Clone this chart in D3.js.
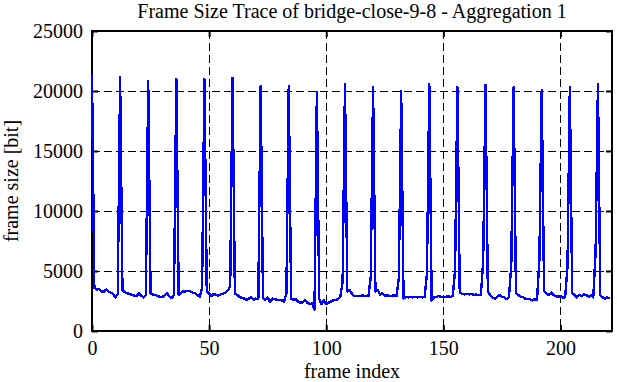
<!DOCTYPE html>
<html>
<head>
<meta charset="utf-8">
<script src="https://cdn.jsdelivr.net/npm/d3@7"></script>
<style>
  html, body { margin: 0; padding: 0; background: #fff; }
  svg { display: block; }
  text { font-family: "Liberation Serif", "Times New Roman", serif; fill: #000; }
</style>
</head>
<body>
<svg id="chart" width="617" height="382"></svg>
<script>
// ---- data ----
const chartTitle = "Frame Size Trace of bridge-close-9-8 - Aggregation 1";
const xLabel = "frame index";
const yLabel = "frame size [bit]";
const xTicks = [0, 50, 100, 150, 200];
const yTicks = [0, 5000, 10000, 15000, 20000, 25000];
const xDomain = [0, 222];
const yDomain = [0, 25000];
// frame sizes [bit], frame index 0..221
const frameSizes = [
  21400, 3600, 3450, 3500, 3300, 3250, 3450, 3300, 3200, 3100, 2800, 3100,
  21150, 3400, 3250, 3150, 3100, 3000, 2950, 2900, 3150, 2950, 2800, 3000,
  20800, 3150, 3050, 3000, 2900, 2850, 2850, 2950, 3150, 2900, 2750, 3000,
  21000, 3000, 3200, 3300, 3300, 3350, 3300, 3200, 3150, 3000, 2850, 3600,
  21000, 3300, 3100, 2900, 3100, 3000, 2950, 3050, 3100, 3200, 3400, 3700,
  21100, 3100, 3000, 2850, 2750, 2700, 2600, 2700, 2800, 2600, 2700, 2650,
  20400, 2750, 2600, 2800, 2400, 2700, 2650, 2600, 2600, 2550, 2450, 3150,
  20400, 2700, 2600, 2650, 2450, 2350, 2400, 2550, 2350, 2250, 2300, 1800,
  19900, 2650, 2250, 2550, 2250, 2350, 2450, 2550, 2600, 2650, 2850, 4100,
  20550, 3300, 3400, 3100, 2900, 2900, 2900, 2950, 2950, 2900, 2900, 4500,
  20350, 3300, 3400, 3000, 3150, 2900, 3000, 2900, 2900, 3000, 2900, 4400,
  20000, 2700, 2850, 2800, 2850, 2800, 2850, 2800, 2850, 2800, 2850, 4800,
  20550, 2550, 2800, 2850, 2900, 2850, 2800, 2850, 2900, 2850, 2900, 5050,
  20350, 3200, 3100, 3050, 3100, 3050, 3100, 3000, 3050, 3000, 3000, 5750,
  20500, 3300, 3000, 2800, 2700, 2850, 3000, 2850, 2800, 2650, 2800, 5500,
  20300, 3150, 3000, 2850, 2800, 2700, 2650, 2650, 2550, 2650, 2600, 5950,
  20100, 3300, 3150, 3000, 3200, 3000, 2900, 2850, 2900, 2800, 2800, 5400,
  20350, 3150, 3000, 2800, 3000, 2900, 3050, 3000, 2850, 3000, 2800, 6600,
  20600, 3000, 2800, 2700, 2800, 2700
];

// ---- layout ----
const W = 617, H = 382;
const m = { left: 92, right: 5, top: 31, bottom: 51 };
const svg = d3.select("#chart");

const x = d3.scaleLinear().domain(xDomain).range([m.left, W - m.right]);
const y = d3.scaleLinear().domain(yDomain).range([H - m.bottom, m.top]);

// grid
const grid = svg.append("g").attr("stroke", "#000").attr("stroke-width", 1)
  .attr("stroke-dasharray", "8,4").attr("shape-rendering", "crispEdges");
grid.selectAll("line.gx").data(xTicks.filter(d => d > xDomain[0] && d < xDomain[1]))
  .join("line").attr("class", "gx")
  .attr("x1", d => x(d)).attr("x2", d => x(d))
  .attr("y1", y(yDomain[1])).attr("y2", y(yDomain[0]));
grid.selectAll("line.gy").data(yTicks.filter(d => d > yDomain[0] && d < yDomain[1]))
  .join("line").attr("class", "gy")
  .attr("y1", d => y(d)).attr("y2", d => y(d))
  .attr("x1", x(xDomain[0])).attr("x2", x(xDomain[1]));

// axes (ticks inward, mirrored)
function styleAxis(g) {
  g.select(".domain").remove();
  g.selectAll(".tick line").attr("stroke", "#000").attr("stroke-width", 2);
  g.selectAll(".tick text").attr("font-size", 20)
    .style("font-family", '"Liberation Serif", "Times New Roman", serif');
}
svg.append("g").attr("transform", `translate(0,${y(0)})`)
  .call(d3.axisBottom(x).tickValues(xTicks).tickSize(-6).tickPadding(10).tickFormat(d3.format("d")))
  .call(styleAxis);
svg.append("g").attr("transform", `translate(0,${m.top})`)
  .call(d3.axisTop(x).tickValues(xTicks).tickSize(-6).tickFormat(""))
  .call(styleAxis);
svg.append("g").attr("transform", `translate(${m.left},0)`)
  .call(d3.axisLeft(y).tickValues(yTicks).tickSize(-6).tickPadding(9).tickFormat(d3.format("d")))
  .call(styleAxis);
svg.append("g").attr("transform", `translate(${W - m.right},0)`)
  .call(d3.axisRight(y).tickValues(yTicks).tickSize(-6).tickFormat(""))
  .call(styleAxis);

// border
svg.append("rect")
  .attr("x", x(xDomain[0])).attr("y", y(yDomain[1]))
  .attr("width", x(xDomain[1]) - x(xDomain[0]))
  .attr("height", y(yDomain[0]) - y(yDomain[1]))
  .attr("fill", "none").attr("stroke", "#000").attr("stroke-width", 2);

// data line
const line = d3.line().x((d, i) => x(i)).y(d => y(d));
svg.append("path").datum(frameSizes)
  .attr("d", line)
  .attr("fill", "none").attr("stroke", "#0000ff").attr("stroke-width", 2.4)
  .attr("stroke-linejoin", "round")
  .attr("shape-rendering", "crispEdges");

// labels
svg.append("text").attr("x", (x(xDomain[0]) + x(xDomain[1])) / 2).attr("y", 18)
  .attr("text-anchor", "middle").attr("font-size", 20).text(chartTitle);
svg.append("text").attr("x", (x(xDomain[0]) + x(xDomain[1])) / 2).attr("y", 378)
  .attr("text-anchor", "middle").attr("font-size", 20).text(xLabel);
svg.append("text")
  .attr("transform", `translate(18,${(y(yDomain[0]) + y(yDomain[1])) / 2}) rotate(-90)`)
  .attr("text-anchor", "middle").attr("font-size", 20).text(yLabel);
</script>
</body>
</html>
